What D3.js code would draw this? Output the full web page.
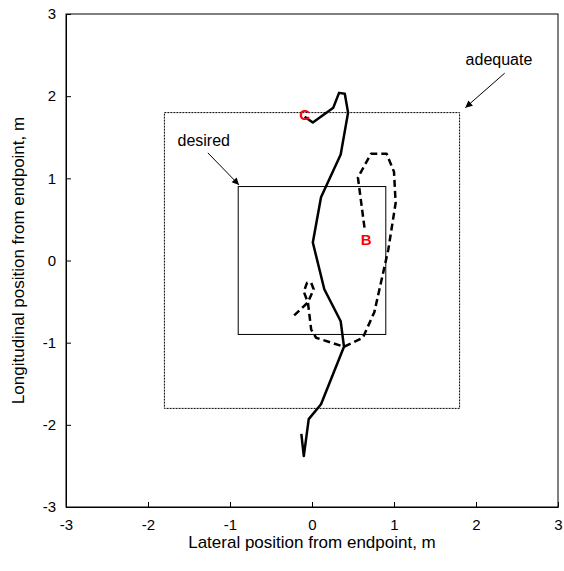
<!DOCTYPE html>
<html>
<head>
<meta charset="utf-8">
<script src="https://cdn.jsdelivr.net/npm/d3@7"></script>
<style>
  html, body { margin: 0; padding: 0; background: #fff; }
  svg { display: block; font-family: Arial, "Liberation Sans", sans-serif; }
</style>
</head>
<body>
<svg id="chart" width="564" height="571"></svg>
<script>
// Axis ticks (metres)
const xTicks = [-3, -2, -1, 0, 1, 2, 3];
const yTicks = [-3, -2, -1, 0, 1, 2, 3];

// Tolerance zones: half-widths of the square targets (m)
const desiredHalf = 0.9;
const adequateHalf = 1.8;

// Trajectory ending at C (solid)
const pathCx = [-0.13, -0.10, -0.04, 0.11, 0.39, 0.35, 0.15, 0.01, 0.11, 0.35, 0.44, 0.40, 0.33, 0.26, 0.01, -0.09];
const pathCy = [-2.11, -2.38, -1.93, -1.75, -1.05, -0.74, -0.35, 0.22, 0.77, 1.29, 1.80, 2.03, 2.04, 1.86, 1.68, 1.75];

// Trajectory starting at B (dashed)
const pathBx = [0.64, 0.56, 0.72, 0.91, 1.00, 1.02, 0.93, 0.76, 0.62, 0.39, 0.05, -0.01, -0.05, -0.10, -0.06, -0.01, 0.02, -0.05, -0.23];
const pathBy = [0.40, 1.01, 1.30, 1.30, 1.08, 0.70, 0.13, -0.63, -0.94, -1.05, -0.94, -0.84, -0.51, -0.38, -0.27, -0.27, -0.35, -0.51, -0.68];

// Point labels
const pointLabels = ["C", "B"];
const pointX = [-0.09, 0.66];
const pointY = [1.78, 0.25];

const svg = d3.select("#chart");
const x = d3.scaleLinear().domain([-3, 3]).range([66, 558]);
const y = d3.scaleLinear().domain([-3, 3]).range([507, 14]);

// frame
svg.append("rect")
  .attr("x", x(-3)).attr("y", y(3))
  .attr("width", x(3) - x(-3)).attr("height", y(-3) - y(3))
  .attr("fill", "none").attr("stroke", "#000").attr("stroke-width", 1);

// axes with inward ticks
const xAxis = svg.append("g").attr("transform", `translate(0,${y(-3)})`)
  .call(d3.axisBottom(x).tickValues(xTicks).tickSizeInner(-5).tickSizeOuter(0).tickPadding(12).tickFormat(d3.format("d")));
const yAxis = svg.append("g").attr("transform", `translate(${x(-3)},0)`)
  .call(d3.axisLeft(y).tickValues(yTicks).tickSizeInner(-5).tickSizeOuter(0).tickPadding(10).tickFormat(d3.format("d")));
[xAxis, yAxis].forEach(g => {
  g.select(".domain").attr("stroke", "#000");
  g.selectAll(".tick line").attr("stroke", "#000");
  g.selectAll("text").attr("font-size", 15).attr("fill", "#000")
    .attr("font-family", "Arial, 'Liberation Sans', sans-serif")
    .text(d => d < 0 ? "-" + Math.abs(d) : d);
});
xAxis.selectAll(".tick text").attr("dy", "0.71em");

// axis titles
svg.append("text")
  .attr("x", x(0)).attr("y", 548)
  .attr("text-anchor", "middle").attr("font-size", 17)
  .text("Lateral position from endpoint, m");
svg.append("text")
  .attr("transform", `translate(24,${y(0)}) rotate(-90)`)
  .attr("text-anchor", "middle").attr("font-size", 17)
  .text("Longitudinal position from endpoint, m");

// adequate zone (dotted) and desired zone (solid)
svg.append("rect")
  .attr("x", x(-adequateHalf)).attr("y", y(adequateHalf))
  .attr("width", x(adequateHalf) - x(-adequateHalf))
  .attr("height", y(-adequateHalf) - y(adequateHalf))
  .attr("fill", "none").attr("stroke", "#000").attr("stroke-width", 1)
  .attr("stroke-dasharray", "2,1");
svg.append("rect")
  .attr("x", x(-desiredHalf)).attr("y", y(desiredHalf))
  .attr("width", x(desiredHalf) - x(-desiredHalf))
  .attr("height", y(-desiredHalf) - y(desiredHalf))
  .attr("fill", "none").attr("stroke", "#000").attr("stroke-width", 1);

// trajectories
const line = d3.line().x(d => x(d[0])).y(d => y(d[1]));
svg.append("path")
  .attr("d", line(d3.zip(pathBx, pathBy)))
  .attr("fill", "none").attr("stroke", "#000").attr("stroke-width", 2.5)
  .attr("stroke-dasharray", "7,4").attr("stroke-linejoin", "round");
svg.append("path")
  .attr("d", line(d3.zip(pathCx, pathCy)))
  .attr("fill", "none").attr("stroke", "#000").attr("stroke-width", 2.5)
  .attr("stroke-linejoin", "round");

// point labels
svg.selectAll("text.pt").data(pointLabels).enter().append("text")
  .attr("class", "pt")
  .attr("x", (d, i) => x(pointX[i])).attr("y", (d, i) => y(pointY[i]))
  .attr("text-anchor", "middle").attr("dy", "0.36em")
  .attr("font-size", 15).attr("font-weight", "bold").attr("fill", "#ff0000")
  .text(d => d);

// annotations with arrows
svg.append("defs").append("marker")
  .attr("id", "arrow").attr("viewBox", "0 0 10 10")
  .attr("refX", 10).attr("refY", 5)
  .attr("markerWidth", 9).attr("markerHeight", 7)
  .attr("markerUnits", "userSpaceOnUse")
  .attr("orient", "auto")
  .append("path").attr("d", "M0,0 L10,5 L0,10 z").attr("fill", "#000");

const notes = [
  { text: "adequate", tx: 2.28, ty: 2.38, x1: 2.35, y1: 2.28, x2: 1.87, y2: 1.86 },
  { text: "desired", tx: -1.32, ty: 1.39, x1: -1.27, y1: 1.31, x2: -0.89, y2: 0.92 }
];
notes.forEach(n => {
  svg.append("text").attr("x", x(n.tx)).attr("y", y(n.ty))
    .attr("text-anchor", "middle").attr("font-size", 16).text(n.text);
  svg.append("line")
    .attr("x1", x(n.x1)).attr("y1", y(n.y1)).attr("x2", x(n.x2)).attr("y2", y(n.y2))
    .attr("stroke", "#000").attr("stroke-width", 1).attr("marker-end", "url(#arrow)");
});
</script>
</body>
</html>
